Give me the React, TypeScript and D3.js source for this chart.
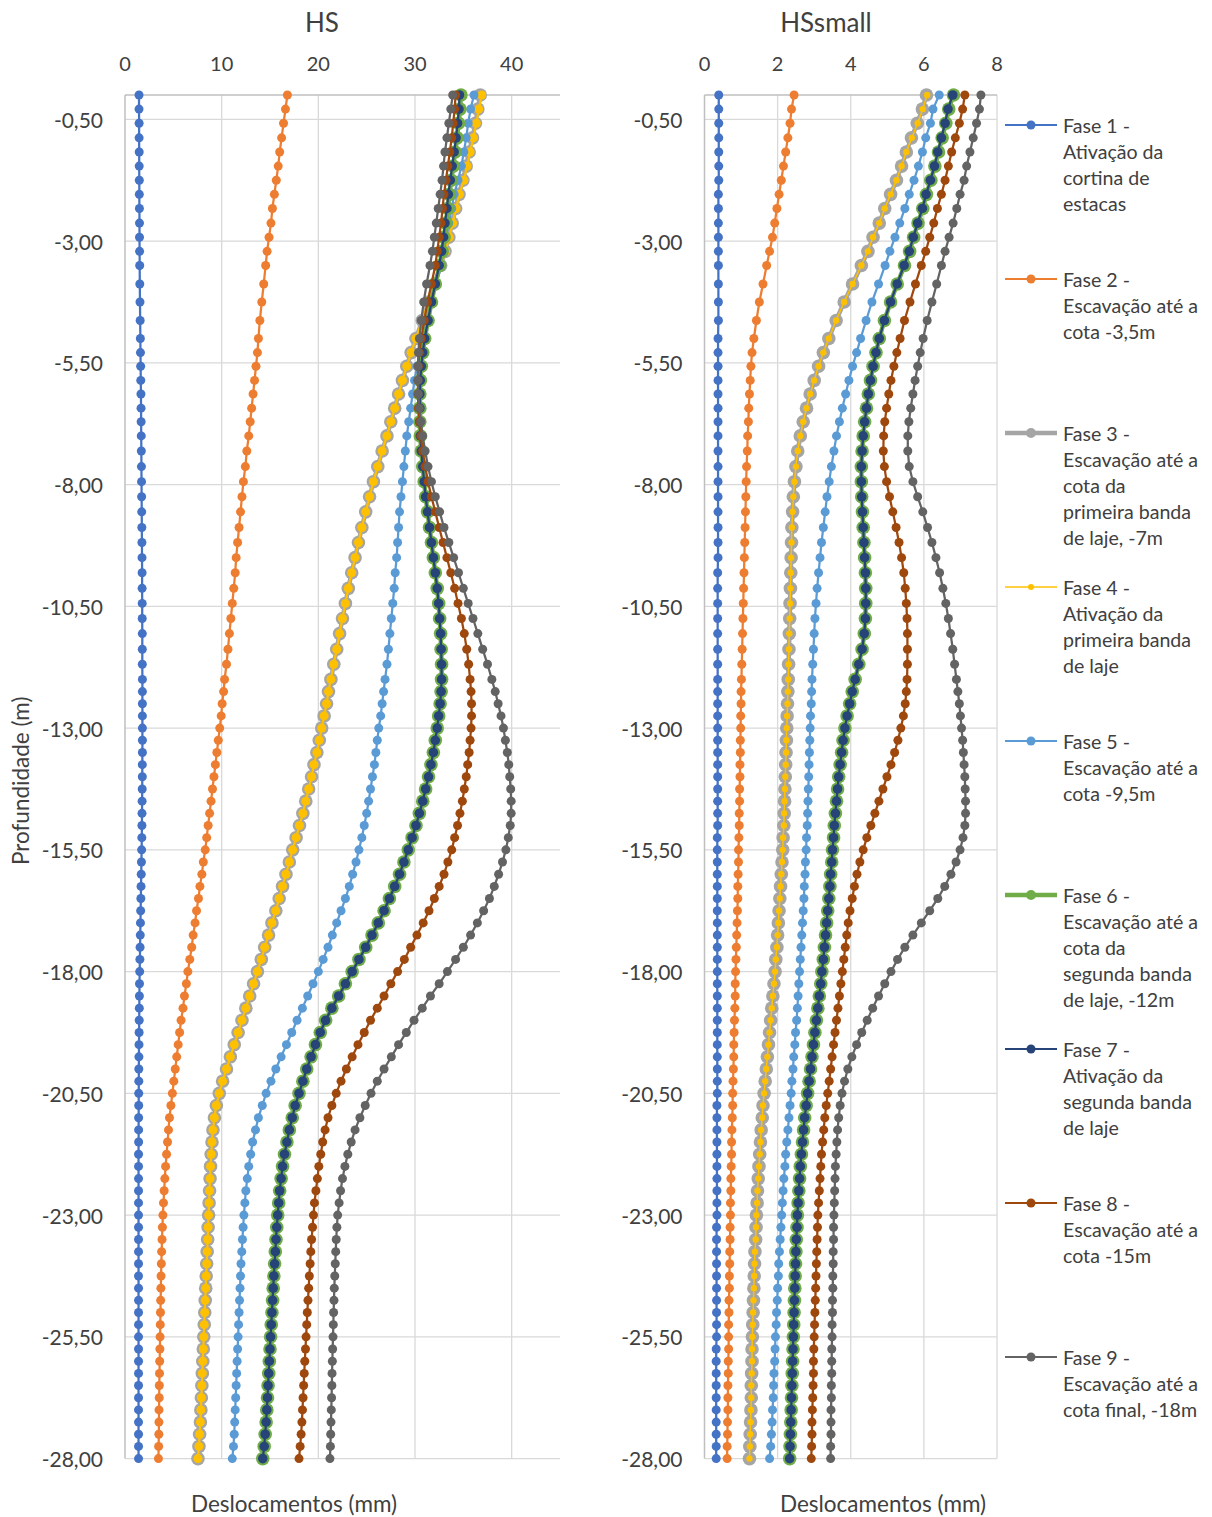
import React from "react";
import * as d3 from "d3";

// Profundidade dos nós (m)
const PROFUNDIDADE = [
  0, -0.29, -0.58, -0.88, -1.17, -1.46, -1.75, -2.04, -2.33, -2.63, -2.92, -3.21, -3.5,
  -3.88, -4.25, -4.63, -5,
  -5.29, -5.57, -5.86, -6.14, -6.43, -6.71, -7,
  -7.31, -7.63, -7.94, -8.25, -8.56, -8.88, -9.19, -9.5, -9.81, -10.13, -10.44, -10.75, -11.06, -11.38, -11.69, -12,
  -12.25, -12.5, -12.75, -13, -13.25, -13.5, -13.75, -14, -14.25, -14.5, -14.75, -15,
  -15.25, -15.5, -15.75, -16, -16.25, -16.5, -16.75, -17, -17.25, -17.5, -17.75, -18,
  -18.25, -18.5, -18.75, -19, -19.25, -19.5, -19.75, -20, -20.25, -20.5, -20.75, -21,
  -21.25, -21.5, -21.75, -22, -22.25, -22.5, -22.75, -23, -23.25, -23.5, -23.75, -24,
  -24.25, -24.5, -24.75, -25, -25.25, -25.5, -25.75, -26, -26.25, -26.5, -26.75, -27,
  -27.25, -27.5, -27.75, -28,
];

// ---- Modelo HS: deslocamentos (mm) ----
const HS_FASE1 = [
  1.45, 1.45, 1.46, 1.46, 1.47, 1.47, 1.48, 1.48, 1.49, 1.5, 1.5, 1.51, 1.52,
  1.53, 1.55, 1.57, 1.59,
  1.6, 1.62, 1.63, 1.65, 1.66, 1.67, 1.68,
  1.69, 1.7, 1.71, 1.72, 1.73, 1.74, 1.75, 1.76, 1.77, 1.77, 1.78, 1.78, 1.79, 1.79, 1.79, 1.8,
  1.8, 1.8, 1.8, 1.8, 1.8, 1.8, 1.79, 1.79, 1.78, 1.77, 1.76, 1.75, 1.74, 1.72, 1.7, 1.68, 1.66, 1.64, 1.62, 1.6, 1.58, 1.56, 1.54, 1.52,
  1.5, 1.49, 1.48, 1.47, 1.46, 1.45, 1.44, 1.43, 1.43, 1.42, 1.42, 1.41, 1.41, 1.41, 1.4, 1.4, 1.4, 1.4, 1.4, 1.4,
  1.4, 1.4, 1.4, 1.4, 1.4, 1.4, 1.4, 1.4, 1.4, 1.4, 1.4, 1.4, 1.4, 1.4, 1.4, 1.4, 1.4, 1.4, 1.4, 1.4,
];
const HS_FASE2 = [
  16.8, 16.6, 16.4, 16.2, 16.0, 15.85, 15.65, 15.45, 15.25, 15.1, 14.9, 14.7, 14.55,
  14.35, 14.15, 13.95, 13.8,
  13.7, 13.55, 13.4, 13.25, 13.1, 12.95, 12.8,
  12.6, 12.45, 12.25, 12.1, 11.95, 11.8, 11.65, 11.5, 11.4, 11.25, 11.1, 10.95, 10.8, 10.65, 10.5, 10.3,
  10.2, 10.05, 9.95, 9.8, 9.65, 9.5, 9.35, 9.2, 9.05, 8.9, 8.75, 8.6, 8.45, 8.3, 8.1, 7.95, 7.75, 7.6, 7.4, 7.25, 7.05, 6.9, 6.7, 6.5,
  6.35, 6.15, 6.0, 5.8, 5.65, 5.5, 5.35, 5.2, 5.05, 4.9, 4.75, 4.6, 4.5, 4.4, 4.3, 4.2, 4.12, 4.05, 3.98, 3.92,
  3.87, 3.83, 3.79, 3.76, 3.73, 3.71, 3.69, 3.67, 3.65, 3.63, 3.61, 3.59, 3.57, 3.55, 3.54, 3.52, 3.51, 3.5, 3.48, 3.46,
];
const HS_FASE3 = [
  36.75, 36.5, 36.25, 35.95, 35.6, 35.3, 34.95, 34.55, 34.2, 33.85, 33.5, 33.1, 32.65,
  32.05, 31.4, 30.75, 30.1,
  29.6, 29.15, 28.7, 28.3, 27.9, 27.5, 27.1,
  26.6, 26.15, 25.7, 25.3, 24.9, 24.5, 24.15, 23.8, 23.45, 23.1, 22.8, 22.5, 22.2, 21.9, 21.6, 21.3,
  21.05, 20.85, 20.6, 20.35, 20.1, 19.85, 19.55, 19.3, 19.0, 18.7, 18.4, 18.05, 17.7, 17.35, 17.0, 16.65, 16.3, 15.95, 15.6, 15.2, 14.85, 14.45, 14.1, 13.7,
  13.3, 12.9, 12.5, 12.1, 11.7, 11.3, 10.9, 10.5, 10.1, 9.75, 9.45, 9.25, 9.1, 9.0, 8.92, 8.85, 8.8, 8.75, 8.7, 8.65,
  8.6, 8.55, 8.5, 8.45, 8.4, 8.35, 8.3, 8.25, 8.2, 8.15, 8.1, 8.05, 8.0, 7.95, 7.9, 7.85, 7.8, 7.72, 7.65, 7.55,
];
const HS_FASE4 = [
  36.9, 36.6, 36.35, 36.05, 35.7, 35.4, 35.05, 34.6, 34.25, 33.9, 33.55, 33.15, 32.7,
  32.05, 31.4, 30.75, 30.1,
  29.6, 29.15, 28.7, 28.3, 27.9, 27.5, 27.1,
  26.6, 26.15, 25.7, 25.3, 24.9, 24.5, 24.15, 23.8, 23.45, 23.1, 22.8, 22.5, 22.2, 21.9, 21.6, 21.3,
  21.05, 20.85, 20.6, 20.35, 20.1, 19.85, 19.55, 19.3, 19.0, 18.7, 18.4, 18.05, 17.7, 17.35, 17.0, 16.65, 16.3, 15.95, 15.6, 15.2, 14.85, 14.45, 14.1, 13.7,
  13.3, 12.9, 12.5, 12.1, 11.7, 11.3, 10.9, 10.5, 10.1, 9.75, 9.45, 9.25, 9.1, 9.0, 8.92, 8.85, 8.8, 8.75, 8.7, 8.65,
  8.6, 8.55, 8.5, 8.45, 8.4, 8.35, 8.3, 8.25, 8.2, 8.15, 8.1, 8.05, 8.0, 7.95, 7.9, 7.85, 7.8, 7.72, 7.65, 7.55,
];
const HS_FASE5 = [
  36.1, 35.75, 35.5, 35.3, 35.05, 34.8, 34.45, 34.05, 33.8, 33.5, 33.2, 33.0, 32.7,
  32.2, 31.7, 31.2, 30.8,
  30.5, 30.2, 29.95, 29.75, 29.55, 29.35, 29.15,
  29.0, 28.85, 28.7, 28.55, 28.4, 28.3, 28.2, 28.1, 27.95, 27.85, 27.7, 27.55, 27.4, 27.25, 27.1, 26.9,
  26.75, 26.6, 26.45, 26.25, 26.1, 25.95, 25.8, 25.6, 25.4, 25.2, 25.0, 24.75, 24.5, 24.2, 23.9, 23.55, 23.2, 22.8, 22.35, 21.9, 21.45, 21.0, 20.5, 20.0,
  19.45, 18.9, 18.35, 17.8, 17.25, 16.7, 16.15, 15.6, 15.1, 14.6, 14.2, 13.8, 13.5, 13.2, 13.0, 12.8, 12.65, 12.5, 12.4, 12.3,
  12.22, 12.15, 12.08, 12.0, 11.95, 11.9, 11.85, 11.8, 11.75, 11.7, 11.65, 11.6, 11.55, 11.5, 11.45, 11.4, 11.35, 11.3, 11.22, 11.1,
];
const HS_FASE6 = [
  34.75, 34.65, 34.5, 34.35, 34.15, 33.95, 33.75, 33.55, 33.4, 33.2, 33.0, 32.8, 32.55,
  32.1, 31.7, 31.35, 31.0,
  30.8, 30.65, 30.55, 30.5, 30.5, 30.5, 30.55,
  30.65, 30.8, 30.95, 31.1, 31.3, 31.5, 31.7, 31.9, 32.1, 32.3, 32.45, 32.55, 32.65, 32.7, 32.75, 32.75,
  32.7, 32.6, 32.45, 32.3, 32.1, 31.9, 31.65, 31.4, 31.1, 30.8, 30.45, 30.1, 29.7, 29.3, 28.85, 28.4, 27.9, 27.35, 26.8, 26.2, 25.55, 24.9, 24.2, 23.5,
  22.8, 22.1, 21.4, 20.75, 20.2, 19.7, 19.25, 18.8, 18.4, 18.0, 17.6, 17.3, 17.0, 16.75, 16.5, 16.3, 16.15, 16.0, 15.9, 15.8,
  15.7, 15.62, 15.55, 15.48, 15.4, 15.33, 15.27, 15.2, 15.13, 15.06, 15.0, 14.93, 14.87, 14.8, 14.74, 14.67, 14.6, 14.5, 14.4, 14.25,
];
const HS_FASE7 = [
  34.6, 34.55, 34.4, 34.25, 34.05, 33.85, 33.65, 33.45, 33.3, 33.1, 32.95, 32.75, 32.5,
  32.1, 31.7, 31.35, 31.0,
  30.8, 30.65, 30.55, 30.5, 30.5, 30.5, 30.55,
  30.65, 30.8, 30.95, 31.1, 31.3, 31.5, 31.7, 31.9, 32.1, 32.3, 32.45, 32.55, 32.65, 32.7, 32.75, 32.75,
  32.7, 32.6, 32.45, 32.3, 32.1, 31.9, 31.65, 31.4, 31.1, 30.8, 30.45, 30.1, 29.7, 29.3, 28.85, 28.4, 27.9, 27.35, 26.8, 26.2, 25.55, 24.9, 24.2, 23.5,
  22.8, 22.1, 21.4, 20.75, 20.2, 19.7, 19.25, 18.8, 18.4, 18.0, 17.6, 17.3, 17.0, 16.75, 16.5, 16.3, 16.15, 16.0, 15.9, 15.8,
  15.7, 15.62, 15.55, 15.48, 15.4, 15.33, 15.27, 15.2, 15.13, 15.06, 15.0, 14.93, 14.87, 14.8, 14.74, 14.67, 14.6, 14.5, 14.4, 14.25,
];
const HS_FASE8 = [
  34.2, 34.1, 33.95, 33.8, 33.6, 33.4, 33.2, 33.0, 32.85, 32.7, 32.5, 32.3, 32.1,
  31.7, 31.3, 30.95, 30.65,
  30.45, 30.35, 30.3, 30.3, 30.35, 30.45, 30.6,
  30.8, 31.05, 31.35, 31.7, 32.1, 32.5, 32.9, 33.3, 33.7, 34.1, 34.45, 34.8, 35.1, 35.35, 35.55, 35.7,
  35.8, 35.85, 35.85, 35.8, 35.7, 35.6, 35.45, 35.3, 35.1, 34.9, 34.65, 34.4, 34.1, 33.8, 33.4, 33.0, 32.5, 32.0, 31.45, 30.85, 30.2, 29.55, 28.9, 28.2,
  27.5, 26.8, 26.1, 25.4, 24.75, 24.1, 23.5, 22.9, 22.35, 21.85, 21.4, 21.0, 20.7, 20.45, 20.25, 20.05, 19.9, 19.75, 19.6, 19.5,
  19.4, 19.3, 19.22, 19.15, 19.07, 19.0, 18.93, 18.86, 18.8, 18.73, 18.67, 18.6, 18.54, 18.48, 18.42, 18.36, 18.3, 18.22, 18.12, 18.0,
];
const HS_FASE9 = [
  33.9, 33.7, 33.5, 33.3, 33.1, 32.95, 32.8, 32.6, 32.4, 32.2, 32.0, 31.8, 31.55,
  31.2, 30.9, 30.65, 30.45,
  30.35, 30.3, 30.3, 30.35, 30.45, 30.6, 30.8,
  31.05, 31.35, 31.7, 32.1, 32.55, 33.0, 33.5, 34.0, 34.5, 35.0, 35.5, 36.0, 36.5, 37.0, 37.5, 37.95,
  38.3, 38.6, 38.9, 39.15, 39.35, 39.55, 39.7, 39.8, 39.9, 39.95, 39.95, 39.85, 39.65, 39.4, 39.05, 38.65, 38.2, 37.7, 37.1, 36.45, 35.75, 35.0, 34.2, 33.35,
  32.5, 31.6, 30.75, 29.9, 29.1, 28.3, 27.55, 26.8, 26.1, 25.45, 24.85, 24.3, 23.8, 23.4, 23.05, 22.75, 22.5, 22.3, 22.15, 22.0,
  21.92, 21.85, 21.8, 21.75, 21.7, 21.65, 21.62, 21.58, 21.55, 21.52, 21.48, 21.45, 21.42, 21.4, 21.37, 21.34, 21.31, 21.28, 21.25, 21.2,
];

// ---- Modelo HSsmall: deslocamentos (mm) ----
const HSSMALL_FASE1 = [
  0.39, 0.39, 0.39, 0.39, 0.39, 0.39, 0.39, 0.38, 0.38, 0.38, 0.38, 0.38, 0.38,
  0.38, 0.38, 0.38, 0.37,
  0.37, 0.37, 0.37, 0.37, 0.37, 0.37, 0.37,
  0.37, 0.37, 0.37, 0.37, 0.37, 0.37, 0.37, 0.37, 0.36, 0.36, 0.36, 0.36, 0.36, 0.36, 0.36, 0.36,
  0.36, 0.36, 0.36, 0.36, 0.36, 0.36, 0.36, 0.36, 0.36, 0.36, 0.36, 0.36, 0.35, 0.35, 0.35, 0.35, 0.35, 0.35, 0.35, 0.35, 0.35, 0.35, 0.35, 0.35,
  0.35, 0.35, 0.35, 0.35, 0.35, 0.35, 0.35, 0.35, 0.35, 0.35, 0.34, 0.34, 0.34, 0.34, 0.34, 0.34, 0.34, 0.34, 0.34, 0.34,
  0.33, 0.33, 0.33, 0.33, 0.33, 0.33, 0.33, 0.33, 0.33, 0.33, 0.32, 0.32, 0.32, 0.32, 0.32, 0.32, 0.32, 0.32, 0.32, 0.32,
];
const HSSMALL_FASE2 = [
  2.45, 2.38, 2.34, 2.28, 2.22, 2.16, 2.1, 2.04, 1.98, 1.92, 1.86, 1.78, 1.7,
  1.6, 1.5, 1.42, 1.35,
  1.3, 1.27, 1.25, 1.23, 1.21, 1.2, 1.18,
  1.17, 1.15, 1.14, 1.13, 1.12, 1.11, 1.1, 1.09, 1.08, 1.07, 1.06, 1.05, 1.04, 1.03, 1.02, 1.01,
  1.0, 1.0, 0.99, 0.99, 0.98, 0.98, 0.97, 0.97, 0.96, 0.96, 0.95, 0.95, 0.94, 0.93, 0.93, 0.92, 0.91, 0.91, 0.9, 0.89, 0.88, 0.87, 0.86, 0.85,
  0.84, 0.84, 0.83, 0.82, 0.81, 0.8, 0.8, 0.79, 0.78, 0.77, 0.77, 0.76, 0.75, 0.74, 0.74, 0.73, 0.72, 0.72, 0.71, 0.71,
  0.7, 0.7, 0.69, 0.69, 0.68, 0.68, 0.67, 0.67, 0.66, 0.66, 0.66, 0.65, 0.65, 0.64, 0.64, 0.64, 0.63, 0.63, 0.62, 0.62,
];
const HSSMALL_FASE3 = [
  6.07, 5.96, 5.82, 5.66, 5.52, 5.39, 5.25, 5.09, 4.93, 4.78, 4.61, 4.47, 4.29,
  4.05, 3.82, 3.6, 3.4,
  3.25, 3.12, 3.0, 2.89, 2.79, 2.7, 2.62,
  2.55, 2.5, 2.46, 2.43, 2.41, 2.39, 2.38, 2.37, 2.36, 2.35, 2.34, 2.33, 2.32, 2.31, 2.3, 2.29,
  2.28, 2.27, 2.26, 2.25, 2.24, 2.23, 2.22, 2.21, 2.2, 2.19, 2.18, 2.17, 2.15, 2.14, 2.12, 2.1, 2.08, 2.06, 2.04, 2.02, 2.0, 1.98, 1.95, 1.93,
  1.9, 1.87, 1.84, 1.81, 1.78, 1.75, 1.72, 1.69, 1.66, 1.63, 1.6, 1.58, 1.55, 1.53, 1.51, 1.49, 1.47, 1.45, 1.44, 1.42,
  1.41, 1.4, 1.38, 1.37, 1.36, 1.35, 1.34, 1.33, 1.32, 1.31, 1.3, 1.3, 1.29, 1.28, 1.28, 1.27, 1.26, 1.25, 1.24, 1.23,
];
const HSSMALL_FASE4 = [
  6.09, 5.97, 5.83, 5.67, 5.52, 5.39, 5.25, 5.09, 4.93, 4.78, 4.61, 4.47, 4.29,
  4.05, 3.82, 3.6, 3.4,
  3.25, 3.12, 3.0, 2.89, 2.79, 2.7, 2.62,
  2.55, 2.5, 2.46, 2.43, 2.41, 2.39, 2.38, 2.37, 2.36, 2.35, 2.34, 2.33, 2.32, 2.31, 2.3, 2.29,
  2.28, 2.27, 2.26, 2.25, 2.24, 2.23, 2.22, 2.21, 2.2, 2.19, 2.18, 2.17, 2.15, 2.14, 2.12, 2.1, 2.08, 2.06, 2.04, 2.02, 2.0, 1.98, 1.95, 1.93,
  1.9, 1.87, 1.84, 1.81, 1.78, 1.75, 1.72, 1.69, 1.66, 1.63, 1.6, 1.58, 1.55, 1.53, 1.51, 1.49, 1.47, 1.45, 1.44, 1.42,
  1.41, 1.4, 1.38, 1.37, 1.36, 1.35, 1.34, 1.33, 1.32, 1.31, 1.3, 1.3, 1.29, 1.28, 1.28, 1.27, 1.26, 1.25, 1.24, 1.23,
];
const HSSMALL_FASE5 = [
  6.42, 6.25, 6.18, 6.05, 5.96, 5.85, 5.73, 5.6, 5.48, 5.34, 5.21, 5.07, 4.94,
  4.76, 4.58, 4.42, 4.27,
  4.16, 4.05, 3.95, 3.86, 3.77, 3.69, 3.61,
  3.54, 3.47, 3.41, 3.35, 3.3, 3.25, 3.2, 3.16, 3.12, 3.08, 3.05, 3.02, 3.0, 2.98, 2.96, 2.94,
  2.93, 2.92, 2.9, 2.89, 2.88, 2.87, 2.86, 2.85, 2.84, 2.83, 2.82, 2.81, 2.79, 2.78, 2.76, 2.75, 2.73, 2.72, 2.7, 2.68, 2.66, 2.64, 2.62, 2.6,
  2.58, 2.56, 2.54, 2.52, 2.49, 2.47, 2.44, 2.42, 2.39, 2.37, 2.34, 2.31, 2.28, 2.25, 2.22, 2.2, 2.17, 2.15, 2.13, 2.11,
  2.09, 2.07, 2.05, 2.03, 2.02, 2.0, 1.99, 1.97, 1.96, 1.94, 1.93, 1.92, 1.9, 1.89, 1.88, 1.86, 1.85, 1.83, 1.81, 1.78,
];
const HSSMALL_FASE6 = [
  6.81, 6.68, 6.6, 6.5, 6.4, 6.3, 6.19, 6.07, 5.97, 5.84, 5.72, 5.61, 5.47,
  5.27, 5.09, 4.92, 4.78,
  4.69, 4.61, 4.54, 4.48, 4.43, 4.38, 4.34,
  4.31, 4.29, 4.29, 4.3, 4.32, 4.34, 4.36, 4.38, 4.4, 4.41, 4.41, 4.4, 4.37, 4.31, 4.22, 4.12,
  4.04, 3.97, 3.9, 3.84, 3.79, 3.75, 3.71, 3.67, 3.64, 3.61, 3.58, 3.55, 3.53, 3.5, 3.48, 3.45, 3.43, 3.4, 3.37, 3.34, 3.31, 3.28, 3.25, 3.21,
  3.18, 3.14, 3.1, 3.06, 3.02, 2.98, 2.94, 2.9, 2.86, 2.82, 2.78, 2.74, 2.71, 2.68, 2.65, 2.62, 2.6, 2.58, 2.56, 2.54,
  2.53, 2.51, 2.5, 2.49, 2.48, 2.47, 2.46, 2.45, 2.44, 2.43, 2.42, 2.41, 2.4, 2.39, 2.38, 2.37, 2.36, 2.35, 2.34, 2.33,
];
const HSSMALL_FASE7 = [
  6.79, 6.66, 6.58, 6.48, 6.38, 6.29, 6.18, 6.06, 5.96, 5.83, 5.71, 5.6, 5.46,
  5.27, 5.09, 4.92, 4.78,
  4.69, 4.61, 4.54, 4.48, 4.43, 4.38, 4.34,
  4.31, 4.29, 4.29, 4.3, 4.32, 4.34, 4.36, 4.38, 4.4, 4.41, 4.41, 4.4, 4.37, 4.31, 4.22, 4.12,
  4.04, 3.97, 3.9, 3.84, 3.79, 3.75, 3.71, 3.67, 3.64, 3.61, 3.58, 3.55, 3.53, 3.5, 3.48, 3.45, 3.43, 3.4, 3.37, 3.34, 3.31, 3.28, 3.25, 3.21,
  3.18, 3.14, 3.1, 3.06, 3.02, 2.98, 2.94, 2.9, 2.86, 2.82, 2.78, 2.74, 2.71, 2.68, 2.65, 2.62, 2.6, 2.58, 2.56, 2.54,
  2.53, 2.51, 2.5, 2.49, 2.48, 2.47, 2.46, 2.45, 2.44, 2.43, 2.42, 2.41, 2.4, 2.39, 2.38, 2.37, 2.36, 2.35, 2.34, 2.33,
];
const HSSMALL_FASE8 = [
  7.12, 7.06, 6.97, 6.86, 6.76, 6.67, 6.58, 6.48, 6.37, 6.27, 6.16, 6.05, 5.93,
  5.77, 5.62, 5.47, 5.35,
  5.26, 5.18, 5.1, 5.04, 4.98, 4.93, 4.9,
  4.89, 4.92, 4.98, 5.06, 5.15, 5.24, 5.32, 5.39, 5.45, 5.49, 5.52, 5.54, 5.55, 5.55, 5.55, 5.54,
  5.52, 5.49, 5.44, 5.37, 5.29, 5.2, 5.1, 4.99, 4.88, 4.77, 4.66, 4.55, 4.44, 4.34, 4.25, 4.17, 4.1, 4.04, 3.98, 3.93, 3.89, 3.85, 3.81, 3.77,
  3.73, 3.69, 3.65, 3.61, 3.57, 3.53, 3.49, 3.45, 3.41, 3.37, 3.33, 3.29, 3.26, 3.23, 3.2, 3.18, 3.16, 3.14, 3.12, 3.1,
  3.09, 3.08, 3.07, 3.06, 3.05, 3.04, 3.03, 3.02, 3.01, 3.0, 2.99, 2.98, 2.98, 2.97, 2.96, 2.95, 2.94, 2.94, 2.93, 2.92,
];
const HSSMALL_FASE9 = [
  7.56, 7.52, 7.44, 7.35, 7.26, 7.17, 7.1, 6.99, 6.9, 6.8, 6.69, 6.58, 6.48,
  6.35, 6.22, 6.09, 5.98,
  5.9, 5.83, 5.76, 5.7, 5.64, 5.59, 5.56,
  5.56, 5.6, 5.7, 5.83, 5.97, 6.1, 6.22, 6.33, 6.43, 6.52, 6.6, 6.67, 6.73, 6.79, 6.84, 6.89,
  6.93, 6.97, 7.0, 7.03, 7.06, 7.08, 7.1, 7.12, 7.13, 7.14, 7.14, 7.12, 7.07, 6.99, 6.88, 6.74, 6.57, 6.38, 6.16, 5.93, 5.7, 5.48, 5.28, 5.1,
  4.93, 4.76, 4.6, 4.45, 4.3, 4.16, 4.03, 3.92, 3.83, 3.76, 3.71, 3.67, 3.64, 3.62, 3.6, 3.58, 3.57, 3.56, 3.55, 3.54,
  3.53, 3.53, 3.52, 3.52, 3.51, 3.51, 3.5, 3.5, 3.49, 3.49, 3.48, 3.48, 3.48, 3.47, 3.47, 3.46, 3.46, 3.46, 3.45, 3.45,
];

const HS_SERIES = [HS_FASE1, HS_FASE2, HS_FASE3, HS_FASE4, HS_FASE5, HS_FASE6, HS_FASE7, HS_FASE8, HS_FASE9];
const HSSMALL_SERIES = [
  HSSMALL_FASE1, HSSMALL_FASE2, HSSMALL_FASE3, HSSMALL_FASE4, HSSMALL_FASE5,
  HSSMALL_FASE6, HSSMALL_FASE7, HSSMALL_FASE8, HSSMALL_FASE9,
];

// Legenda (texto quebrado em linhas)
const LEGENDA = [
  ["Fase 1 -", "Ativação da", "cortina de", "estacas"],
  ["Fase 2 -", "Escavação até a", "cota -3,5m"],
  ["Fase 3 -", "Escavação até a", "cota da", "primeira banda", "de laje, -7m"],
  ["Fase 4 -", "Ativação da", "primeira banda", "de laje"],
  ["Fase 5 -", "Escavação até a", "cota -9,5m"],
  ["Fase 6 -", "Escavação até a", "cota da", "segunda banda", "de laje, -12m"],
  ["Fase 7 -", "Ativação da", "segunda banda", "de laje"],
  ["Fase 8 -", "Escavação até a", "cota -15m"],
  ["Fase 9 -", "Escavação até a", "cota final, -18m"],
];

const Y_TICKS = [-0.5, -3, -5.5, -8, -10.5, -13, -15.5, -18, -20.5, -23, -25.5, -28];
const HS_X_TICKS = [0, 10, 20, 30, 40];
const HSSMALL_X_TICKS = [0, 2, 4, 6, 8];

// ---- Estilos ----
const CORES = ["#4472C4", "#ED7D31", "#A5A5A5", "#FFC000", "#5B9BD5", "#70AD47", "#264478", "#9E480E", "#636363"];
const FONT = "Lato, 'Open Sans', sans-serif";
const TXT = "#404040";
const GRID = "#D9D9D9";
const AXIS = "#BFBFBF";
const Y_TOP = 95;
const Y_BOTTOM = 1458.6;

// espessura de linha e raio de marcador por série, em cada gráfico
const ESTILO_HS = [
  { w: 2.25, r: 4.5 }, { w: 2.25, r: 4.5 }, { w: 4.5, r: 6.8 }, { w: 2.25, r: 4.5 }, { w: 2.25, r: 4.5 },
  { w: 4.5, r: 6.8 }, { w: 2.25, r: 4.8 }, { w: 2.25, r: 4.5 }, { w: 2.25, r: 4.5 },
];
const ESTILO_HSSMALL = [
  { w: 2.25, r: 4.5 }, { w: 2.25, r: 4.5 }, { w: 4.5, r: 6.8 }, { w: 1.5, r: 3.2 }, { w: 2.25, r: 4.5 },
  { w: 4.5, r: 6.8 }, { w: 2.25, r: 4.8 }, { w: 2.25, r: 4.5 }, { w: 2.25, r: 4.5 },
];
const ESTILO_LEGENDA = [
  { w: 2, r: 4.5 }, { w: 2, r: 4.5 }, { w: 4.5, r: 5 }, { w: 1.5, r: 3 }, { w: 2, r: 4.5 },
  { w: 4.5, r: 5 }, { w: 2, r: 4.5 }, { w: 2, r: 4.5 }, { w: 2, r: 4.5 },
];

const fmtProf = (v: number) => v.toFixed(2).replace(".", ",");

type PainelProps = {
  titulo: string;
  tituloX: number;
  series: number[][];
  estilos: { w: number; r: number }[];
  xMax: number;
  xTicks: number[];
  x0: number;
  x1: number;
  eixoX: number;
  mostrarEixoY: boolean;
};

function Painel({ titulo, tituloX, series, estilos, xMax, xTicks, x0, x1, eixoX, mostrarEixoY }: PainelProps) {
  const x = d3.scaleLinear().domain([0, xMax]).range([x0, x1]);
  const y = d3.scaleLinear().domain([-28, 0]).range([Y_BOTTOM, Y_TOP]);

  return (
    <g>
      <text x={tituloX} y={22} textAnchor="middle" dominantBaseline="central" fontSize={26} fill={TXT}>
        {titulo}
      </text>
      {/* grelha */}
      {xTicks.filter((t) => t !== 0).map((t) => (
        <line key={"gx" + t} x1={x(t)} x2={x(t)} y1={Y_TOP} y2={Y_BOTTOM} stroke={GRID} strokeWidth={1.3} />
      ))}
      {Y_TICKS.map((t) => (
        <line key={"gy" + t} x1={x0} x2={x1} y1={y(t)} y2={y(t)} stroke={GRID} strokeWidth={1.3} />
      ))}
      {/* eixos */}
      <line x1={x0} x2={x1} y1={Y_TOP} y2={Y_TOP} stroke={AXIS} strokeWidth={1.5} />
      <line x1={x0} x2={x0} y1={Y_TOP} y2={Y_BOTTOM} stroke={AXIS} strokeWidth={1.5} />
      {xTicks.map((t) => (
        <text key={"tx" + t} x={x(t)} y={63} textAnchor="middle" dominantBaseline="central" fontSize={20} fill={TXT}>
          {t}
        </text>
      ))}
      {Y_TICKS.map((t) => (
        <text key={"ty" + t} x={x0 - 22} y={y(t)} textAnchor="end" dominantBaseline="central" fontSize={21} fill={TXT}>
          {fmtProf(t)}
        </text>
      ))}
      {/* séries */}
      {series.map((vals, s) => {
        const n = Math.min(vals.length, PROFUNDIDADE.length);
        const pts = d3.range(n).map((i) => [x(vals[i]), y(PROFUNDIDADE[i])] as [number, number]);
        const path = d3.line()(pts) || "";
        const st = estilos[s];
        return (
          <g key={"s" + s}>
            <path d={path} fill="none" stroke={CORES[s]} strokeWidth={st.w} strokeLinejoin="round" />
            {pts.map((p, i) => (
              <circle key={i} cx={p[0]} cy={p[1]} r={st.r} fill={CORES[s]} />
            ))}
          </g>
        );
      })}
      <text x={eixoX} y={1503} textAnchor="middle" dominantBaseline="central" fontSize={22.5} fill={TXT}>
        Deslocamentos (mm)
      </text>
      {mostrarEixoY && (
        <text
          transform={`translate(20, ${(Y_TOP + Y_BOTTOM) / 2 + 4}) rotate(-90)`}
          textAnchor="middle"
          dominantBaseline="central"
          fontSize={22.5}
          fill={TXT}
        >
          Profundidade (m)
        </text>
      )}
    </g>
  );
}

function Legenda() {
  return (
    <g>
      {LEGENDA.map((linhas, i) => {
        const y0 = 125 + i * 154;
        const st = ESTILO_LEGENDA[i];
        return (
          <g key={i}>
            <line x1={1005} x2={1057} y1={y0} y2={y0} stroke={CORES[i]} strokeWidth={st.w} />
            <circle cx={1031} cy={y0} r={st.r} fill={CORES[i]} />
            {linhas.map((l, j) => (
              <text key={j} x={1063} y={y0 + j * 26} dominantBaseline="central" fontSize={19.6} fill={TXT}>
                {l}
              </text>
            ))}
          </g>
        );
      })}
    </g>
  );
}

export default function App() {
  return (
    <svg
      width={1212}
      height={1517}
      style={{ position: "absolute", left: 0, top: 0, background: "#fff" }}
      fontFamily={FONT}
    >
      <rect width={1212} height={1517} fill="#fff" />
      <Painel
        titulo="HS"
        tituloX={322}
        series={HS_SERIES}
        estilos={ESTILO_HS}
        xMax={45}
        xTicks={HS_X_TICKS}
        x0={125}
        x1={560}
        eixoX={294}
        mostrarEixoY={true}
      />
      <Painel
        titulo="HSsmall"
        tituloX={826}
        series={HSSMALL_SERIES}
        estilos={ESTILO_HSSMALL}
        xMax={8}
        xTicks={HSSMALL_X_TICKS}
        x0={704.5}
        x1={997}
        eixoX={883}
        mostrarEixoY={false}
      />
      <Legenda />
    </svg>
  );
}
